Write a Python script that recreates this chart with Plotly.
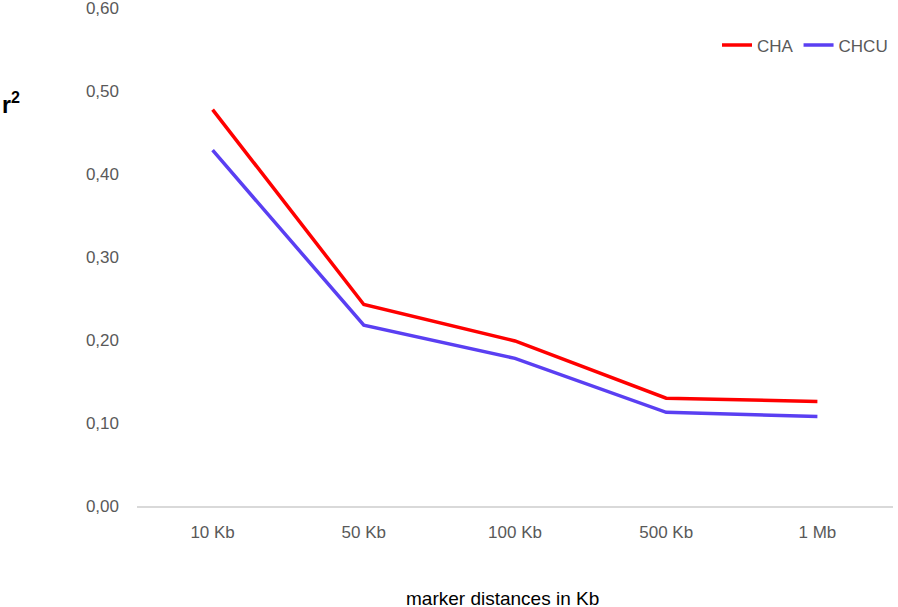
import plotly.graph_objects as go

distances = ["10 Kb", "50 Kb", "100 Kb", "500 Kb", "1 Mb"]
cha = [0.478, 0.243, 0.199, 0.130, 0.126]
chcu = [0.429, 0.218, 0.178, 0.113, 0.108]
y_ticks = [0.0, 0.1, 0.2, 0.3, 0.4, 0.5, 0.6]

fig = go.Figure()
fig.add_trace(go.Scatter(x=distances, y=cha, mode="lines", name="CHA",
                         line=dict(color="#ff0000", width=3.5)))
fig.add_trace(go.Scatter(x=distances, y=chcu, mode="lines", name="CHCU",
                         line=dict(color="#5a3ff2", width=3.5)))

# axis titles drawn as annotations, like the source
fig.add_annotation(text="<b>r<sup>2</sup></b>", xref="paper", yref="paper",
                   x=-0.181, y=0.81, xanchor="left", yanchor="middle", showarrow=False,
                   font=dict(size=23, color="black"))
fig.add_annotation(text="marker distances in Kb", xref="paper", yref="paper",
                   x=0.483, y=-0.185, yanchor="middle", showarrow=False,
                   font=dict(size=19, color="black"))

fig.update_layout(
    width=898, height=607,
    margin=dict(l=137, r=5, t=8, b=101, autoexpand=False),
    paper_bgcolor="white", plot_bgcolor="white",
    separators=",.",
    font=dict(family="Liberation Sans, Arial", size=17, color="#595959"),
    showlegend=True,
    legend=dict(orientation="h", x=1.0, xanchor="right", y=0.925, yanchor="middle",
                font=dict(size=17, color="#595959"), itemwidth=30,
                tracegroupgap=0),
    xaxis=dict(type="category", range=[-0.5, 4.5], showgrid=False,
               showline=True, linecolor="#d9d9d9", linewidth=1.5,
               ticks="", ticklabelstandoff=10, zeroline=False),
    yaxis=dict(range=[0, 0.6005], tickvals=y_ticks, tickformat=".2f", showgrid=False,
               showline=False, zeroline=False, ticks="", ticklabelstandoff=17,
               ticklabeloverflow="allow"),
)

# page has a default 8px body margin; drop it so the figure fills the window
fig.write_html("out.html", config={"displayModeBar": False},
               post_script="document.body.style.margin='0';")
